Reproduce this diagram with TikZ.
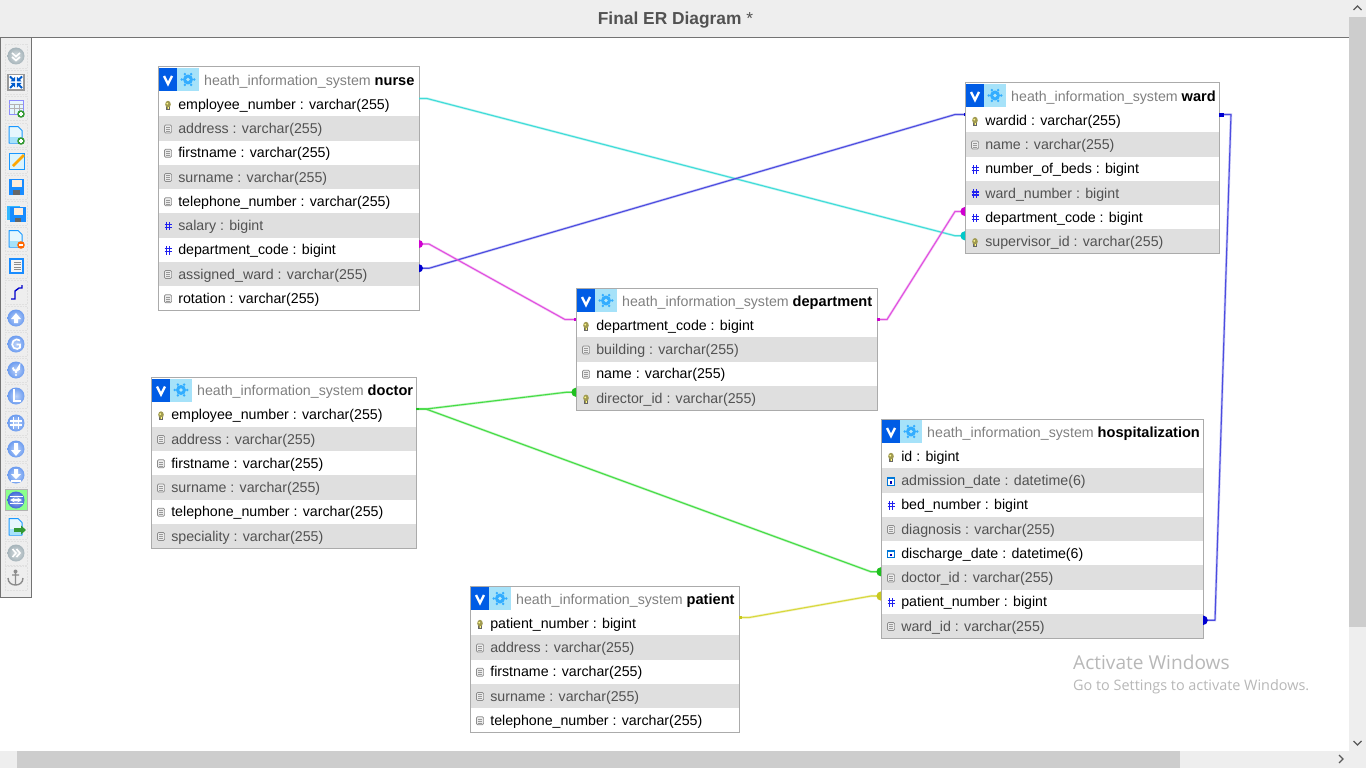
\documentclass[tikz,border=0pt]{standalone}
\usepackage{fontspec}
\setmainfont{Liberation Sans}
\newfontfamily\wmfont{Open Sans}
\usetikzlibrary{calc}
\definecolor{barbg}{HTML}{EEEEEE}
\definecolor{thumb}{HTML}{CDCDCD}
\definecolor{rowgrey}{HTML}{DFDFDF}
\definecolor{framegrey}{HTML}{ABABAB}
\definecolor{cyanl}{HTML}{3FDCD8}
\definecolor{cyand}{HTML}{00C8C8}
\definecolor{bluel}{HTML}{4B4BE0}
\definecolor{blued}{HTML}{0000D0}
\definecolor{magl}{HTML}{E050E0}
\definecolor{magd}{HTML}{D000D0}
\definecolor{greenl}{HTML}{45DC45}
\definecolor{greend}{HTML}{20C020}
\definecolor{yell}{HTML}{D8D83C}
\definecolor{yeld}{HTML}{C8C820}
\definecolor{iconblue}{HTML}{6C9CF0}
\definecolor{iconbluedk}{HTML}{3F68D8}
\definecolor{ballgrey}{HTML}{A6B4BA}
\definecolor{hashblue}{HTML}{2020F0}
\definecolor{keyol}{HTML}{A09A50}
\newcommand{\tn}[1]{\textcolor{black}{\fontsize{14.6}{16}\selectfont\textbf{#1}}}
\tikzset{
  x=1pt,y=-1pt,
  rowodd/.style={draw=none,fill=white,text=black,anchor=north west,inner sep=0pt,outer sep=0pt,minimum height=24.25pt,text height=10pt,text depth=3pt,align=left,font=\fontsize{14.2}{16}\selectfont},
  roweven/.style={rowodd,fill=rowgrey,text=black!68},
  headtxt/.style={anchor=west,inner sep=0pt,font=\fontsize{14.2}{16}\selectfont,text=black!50},
  frameline/.style={draw=framegrey,line width=1pt},
  link/.style={draw=#1,line width=1.1pt,line join=round,preaction={draw=#1,opacity=.3,line width=2.4pt}},
  tb/.style={draw=black!12,densely dotted,line width=.5pt},
}
% field icons (centred on the given point)
\newcommand{\fik}[1]{\begin{scope}[shift={(#1)}]
  \fill[black!60] (-1.6,1) rectangle (1.6,5);
  \fill[keyol] (0,-.6) ellipse (2.8 and 3.4);
  \fill[yellow!45!white] (-.7,-1.2) circle (1);
  \fill[keyol] (-1.3,1.5) rectangle (1.3,4);
  \fill[yellow!50!white] (-.5,2) rectangle (.5,4);
\end{scope}}
\newcommand{\fit}[1]{\begin{scope}[shift={(#1)}]
  \draw[black!45,fill=black!8,line width=.7pt,rounded corners=1.2pt] (-3.6,-4) rectangle (3.6,4);
  \foreach \q in {-2,0,2}{\draw[black!40,line width=.6pt] (-2,\q) -- (2,\q);}
\end{scope}}
\newcommand{\fih}[1]{\begin{scope}[shift={(#1)}]
  \draw[hashblue,line width=1.3pt] (-1.5,-4.2) -- (-1.5,4.2) (1.5,-4.2) -- (1.5,4.2) (-3.5,-1.5) -- (3.5,-1.5) (-3.5,1.5) -- (3.5,1.5);
\end{scope}}
\newcommand{\fid}[1]{\begin{scope}[shift={(#1)}]
  \draw[blue!45!cyan!85!black,fill=white,line width=1pt] (-3.5,-3.5) rectangle (3.5,4);
  \fill[blue!45!cyan!85!black] (-3.5,-3.5) rectangle (3.5,-1.8);
  \fill[blue!70!black] (-.8,0) rectangle (.8,2.6);
\end{scope}}
% table: name, x, y, width, title, rows
\newcommand{\erbl}[6]{%
  \node[minimum width=#4pt,minimum height=25pt,anchor=north west,inner sep=0pt,outer sep=0pt,fill=white] (#1) at (#2,#3) {};
  \fill[blue!60!cyan!90!black] (#2+1,#3+1) rectangle (#2+19,#3+24);
  \fill[cyan!35!white] (#2+19,#3+1) rectangle (#2+41,#3+24);
  \draw[white,line width=2.3pt,line join=miter] (#2+6,#3+9) -- (#2+10,#3+17) -- (#2+14,#3+9);
  \fill[blue!40!cyan!80!white] (#2+30,#3+12.5) circle (5);
  \fill[white!70!cyan] (#2+30,#3+12.5) circle (1.9);
  \foreach \a in {0,60,...,300}{\fill[blue!40!cyan!80!white] ($(#2+30,#3+12.5)+(\a:6.2)$) circle (1.4);}
  \node[headtxt] (#1-t) at (#2+46,#3+14.4) {#5};
  \foreach \ty/\tx [count=\i] in {#6}{
    \pgfmathsetmacro{\ry}{#3+25+(\i-1)*24.25}
    \pgfmathtruncatemacro{\ev}{mod(\i,2)}
    \ifnum\ev=1\def\rs{rowodd}\else\def\rs{roweven}\fi
    \node[\rs,minimum width=#4pt] (#1-\i) at (#2,\ry) {};
    \node[\rs,fill=none,minimum height=0pt,anchor=west] at (#2+20.3,\ry+13.8) {\tx};
    \csname fi\ty\endcsname{#2+10,\ry+12.8};
    \coordinate (#1-\i-R) at ($(#1-\i.east)+(0,-5.6)$);
    \coordinate (#1-\i-L) at ($(#1-\i.west)+(0,-5.6)$);
    \xdef\lastrowy{\ry}
  }
  \draw[frameline] (#2,#3) rectangle (#2+#4,\lastrowy+24.25);
}
% toolbar icon helpers
\newcommand{\tbf}[1]{\draw[tb] (5,#1-12) rectangle (27,#1+12);}
\newcommand{\ball}[2]{\shade[inner color=#2!45!white,outer color=#2] (16,#1) circle (8.5);}
\newcommand{\pagei}[2]{\draw[blue!45!cyan!90!white,fill=cyan!10,line width=1pt,line join=round] (9,#1-8.5) -- (18,#1-8.5) -- (22,#1-4.5) -- (22,#1+8) -- (9,#1+8) -- cycle;
  \fill[cyan!35] (10,#1+2) rectangle (21,#1+7.5);}
\begin{document}
\begin{tikzpicture}
\useasboundingbox (0,0) rectangle (1366,768);
\fill[white] (0,0) rectangle (1366,768);
% window chrome
\fill[barbg] (0,0) rectangle (1366,37);
\draw[black!55,line width=1pt] (0,37.5) -- (1349,37.5);
\node[anchor=center,inner sep=0pt,text=black!68,font=\fontsize{17.35}{19}\selectfont] (title) at (675.5,20.5) {\textbf{Final ER Diagram} *};
\fill[barbg] (1349,0) rectangle (1366,768);
\fill[barbg] (0,751) rectangle (1366,768);
\fill[thumb] (1349,17) rectangle (1366,627);
\fill[thumb] (17,751) rectangle (1180,768);
\draw[black!65,line width=1.3pt] (1353.5,10) -- (1357.5,6) -- (1361.5,10);
\draw[black!65,line width=1.3pt] (1353.5,741) -- (1357.5,745) -- (1361.5,741);
\draw[black!65,line width=1.3pt] (1339,755) -- (1343,759) -- (1339,763);
% watermark
\node[anchor=west,inner sep=0pt,text=black!28,font=\wmfont\fontsize{19.1}{21}\selectfont] (wm1) at (1073,662) {Activate Windows};
\node[anchor=west,inner sep=0pt,text=black!28,font=\wmfont\fontsize{14.42}{16}\selectfont] (wm2) at (1073,687) {Go to Settings to activate Windows.};
% toolbar
\fill[barbg] (1,38) rectangle (31,597);
\draw[black!55,line width=1pt] (0.5,38) rectangle (31.5,597);
\foreach \yy in {56,82,108,135,161,187,213,239,266,292,318,344,370,396,423,449,475,527,553,578}{\tbf{\yy}}
\ball{56}{ballgrey}
\draw[white,line width=1.6pt] (12,53) -- (16,56.5) -- (20,53) (12,57) -- (16,60.5) -- (20,57);
\draw[black!40,fill=white,line width=1.4pt] (8,74.5) rectangle (24,90);
\draw[blue!55!cyan!80!black,line width=2pt] (10,76.5) -- (14,80.5) (22,76.5) -- (18,80.5) (10,88) -- (14,84) (22,88) -- (18,84);
\fill[blue!55!cyan!80!black] (15.2,81.5) -- (10.5,81.5) -- (15.2,76.8) -- cycle (16.8,81.5) -- (21.5,81.5) -- (16.8,76.8) -- cycle (15.2,83) -- (10.5,83) -- (15.2,87.7) -- cycle (16.8,83) -- (21.5,83) -- (16.8,87.7) -- cycle;
\draw[blue!45,fill=cyan!10,line width=.8pt] (9,100) rectangle (23,114);
\draw[black!30,line width=.6pt] (9,104) -- (23,104) (9,108) -- (23,108) (14,104) -- (14,114) (19,104) -- (19,114);
\fill[green!50!black!80!white] (21,114) circle (3.8); \fill[white] (19,113.4) rectangle (23,114.6); \fill[white] (20.4,112) rectangle (21.6,116);
\pagei{135}{}
\fill[green!50!black!80!white] (21,141) circle (3.8); \fill[white] (19,140.4) rectangle (23,141.6); \fill[white] (20.4,139) rectangle (21.6,143);
\draw[blue!45!cyan!90!white,fill=cyan!14,line width=1pt] (9,153) rectangle (24,169);
\draw[orange!70!yellow,line width=2.8pt] (13,166) -- (24,155);
\fill[blue!50!cyan!90!white] (8.5,179) rectangle (23.5,195);
\fill[white!85!orange] (12,179.5) rectangle (22,187);
\fill[black!60] (13,190) rectangle (20,195);
\fill[blue!35!cyan!80!white] (7,206) rectangle (20,220);
\fill[blue!50!cyan!90!white] (10,207) rectangle (26,222);
\fill[white!85!orange] (14,208) rectangle (23,215);
\fill[black!60] (15,218) rectangle (21,222);
\pagei{239}{}
\fill[orange!80!red] (21,245) circle (3.8); \fill[white] (18.8,244.3) rectangle (23.2,245.7);
\draw[blue!50!cyan!90!white,fill=black!4,line width=1.2pt] (10,259) rectangle (23,273);
\draw[black!45,line width=.7pt] (14,262) -- (21,262) (14,264.5) -- (21,264.5) (14,267) -- (21,267) (14,269.5) -- (21,269.5);
\draw[blue!80!black,line width=1.4pt] (11,299) -- (15,299) -- (15,291) -- (19,288) -- (22,288) -- (22,285);
\foreach \yy in {318,344,370,396,423,449,475}{\ball{\yy}{iconblue}}
\fill[white] (16,313) -- (21,319) -- (18,319) -- (18,323) -- (14,323) -- (14,319) -- (11,319) -- cycle;
\draw[white,line width=1.7pt] (20,340.5) arc (-50:-320:4.8) (16.5,344.5) -- (20,344.5) -- (20,348);
\draw[white,line width=1.9pt] (12.8,367.5) arc (180:-20:3.3) -- (16,371.5) -- (16,373);
\fill[white] (16,375) circle (1.1);
\draw[white,line width=1.7pt] (14,389) -- (14,401) -- (21,401);
\draw[white,line width=1.2pt] (13.5,417) -- (13.5,429) (18.5,417) -- (18.5,429) (10,421) -- (22,421) (10,425) -- (22,425);
\fill[white] (16,456) -- (11,450) -- (14,450) -- (14,443) -- (18,443) -- (18,450) -- (21,450) -- cycle;
\fill[white] (16,479) -- (11,474) -- (14,474) -- (14,469) -- (18,469) -- (18,474) -- (21,474) -- cycle;
\fill[white] (11,480) rectangle (21,481.5);
\draw[black!30,fill=green!45!white,line width=.8pt] (5,489.5) rectangle (27,510.5);
\ball{500}{iconbluedk}
\draw[white,line width=1.1pt] (9.5,496.5) -- (22.5,496.5) (9.5,503.5) -- (22.5,503.5);
\draw[white,line width=1.1pt,<->,>=stealth] (10,500) -- (22,500);
\pagei{527}{}
\fill[green!50!black!80!white] (14,528) rectangle (21,532);
\fill[green!50!black!80!white] (21,525.5) -- (26,530) -- (21,534.5) -- cycle;
\ball{553}{ballgrey}
\draw[white,line width=1.6pt] (12.5,549) -- (16,553) -- (12.5,557) (16.5,549) -- (20,553) -- (16.5,557);
\draw[black!45,line width=1.4pt] (15.5,572) -- (15.5,584) (12,575) -- (19,575) (8,578) .. controls (8,583) and (12,585) .. (15.5,585) .. controls (19,585) and (23,583) .. (23,578);
\fill[black!45] (15.5,571.5) circle (2);
% tables
\erbl{nurse}{158}{67}{261}{heath\_information\_system \tn{nurse}}{
  k/employee\_number : varchar(255), t/address : varchar(255), t/firstname : varchar(255), t/surname : varchar(255), t/telephone\_number : varchar(255), h/salary : bigint, h/department\_code : bigint, t/assigned\_ward : varchar(255), t/rotation : varchar(255)}
\erbl{doctor}{151}{377.5}{265}{heath\_information\_system \tn{doctor}}{
  k/employee\_number : varchar(255), t/address : varchar(255), t/firstname : varchar(255), t/surname : varchar(255), t/telephone\_number : varchar(255), t/speciality : varchar(255)}
\erbl{department}{576}{288}{301}{heath\_information\_system \tn{department}}{
  k/department\_code : bigint, t/building : varchar(255), t/name : varchar(255), k/director\_id : varchar(255)}
\erbl{ward}{965}{83}{254}{heath\_information\_system \tn{ward}}{
  k/wardid : varchar(255), t/name : varchar(255), h/number\_of\_beds : bigint, h/ward\_number : bigint, h/department\_code : bigint, k/supervisor\_id : varchar(255)}
\erbl{hosp}{881}{419}{322}{heath\_information\_system \tn{hospitalization}}{
  k/id : bigint, d/admission\_date : datetime(6), h/bed\_number : bigint, t/diagnosis : varchar(255), d/discharge\_date : datetime(6), t/doctor\_id : varchar(255), h/patient\_number : bigint, t/ward\_id : varchar(255)}
\erbl{patient}{470}{586}{269}{heath\_information\_system \tn{patient}}{
  k/patient\_number : bigint, t/address : varchar(255), t/firstname : varchar(255), t/surname : varchar(255), t/telephone\_number : varchar(255)}
% connectors
\draw[link=cyanl] (nurse-1-R) -- ++(8,0) -- ($(ward-6-L)+(-10,0)$) -- (ward-6-L);
\draw[link=bluel] (nurse-8-R) -- ++(10,0) -- ($(ward-1-L)+(-10,0)$) -- (ward-1-L);
\draw[link=magl] (nurse-7-R) -- ++(10,0) -- ($(department-1-L)+(-11,0)$) -- (department-1-L);
\draw[link=magl] (department-1-R) -- ++(10,0) -- ($(ward-5-L)+(-10,0)$) -- (ward-5-L);
\draw[link=greenl] (doctor-1-R) -- ++(10,0) -- ($(department-4-L)+(-10,0)$) -- (department-4-L);
\draw[link=greenl] (doctor-1-R) -- ++(10,0) -- ($(hosp-6-L)+(-10,0)$) -- (hosp-6-L);
\draw[link=yell] (patient-1-R) -- ++(10,0) -- ($(hosp-7-L)+(-10,0)$) -- (hosp-7-L);
\draw[link=bluel] (hosp-8-R) -- ++(12,0) -- ($(ward-1-R)+(12,0)$) -- (ward-1-R);
% end marks: only the half outside the table shows
\fill[cyand] (ward-6-L) ++(0,-4.6) arc (-90:-270:4.6) -- cycle;
\fill[blued] (nurse-8-R) ++(0,-4) arc (-90:90:4) -- cycle;
\fill[blued] ($(ward-1-L)+(-1.5,-1.5)$) rectangle ++(1.5,3);
\fill[magd] (nurse-7-R) ++(0,-4) arc (-90:90:4) -- cycle;
\fill[magd] (department-1-L) ++(-2,-1.2) rectangle ++(2,2.4);
\fill[magd] (department-1-R) ++(0,-1.2) rectangle ++(3,2.4);
\fill[magd] (ward-5-L) ++(0,-4.6) arc (-90:-270:4.6) -- cycle;
\fill[greend] (department-4-L) ++(0,-4.6) arc (-90:-270:4.6) -- cycle;
\fill[greend] (hosp-6-L) ++(0,-4.6) arc (-90:-270:4.6) -- cycle;
\fill[greend] (doctor-1-R) ++(0,-1) rectangle ++(2.5,2);
\fill[yeld] (hosp-7-L) ++(0,-4.6) arc (-90:-270:4.6) -- cycle;
\fill[yeld] (patient-1-R) ++(0,-1.2) rectangle ++(3,2.4);
\fill[blued] (hosp-8-R) ++(0,-4.8) arc (-90:90:4.8) -- cycle;
\fill[blued] ($(ward-1-R)+(0,-2)$) rectangle ++(4.5,4);
\end{tikzpicture}
\end{document}
